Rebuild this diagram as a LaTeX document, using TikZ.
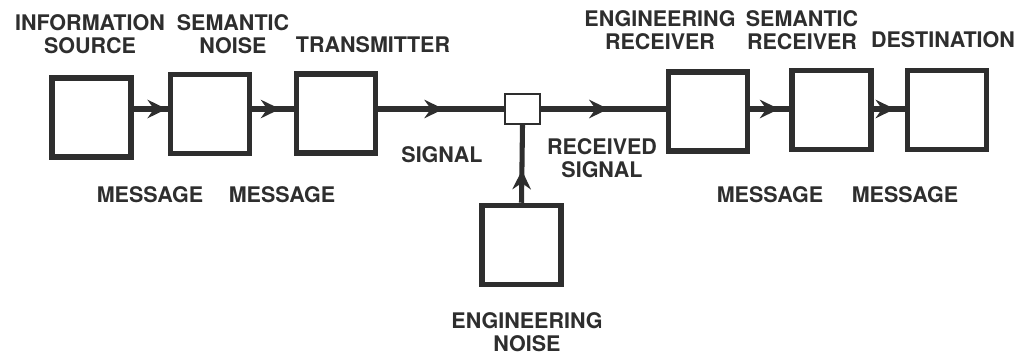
\documentclass[tikz,border=0pt]{standalone}
\usepackage{fontspec}
\setmainfont{TeX Gyre Heros}
\usetikzlibrary{arrows.meta, decorations.markings}

\definecolor{ink}{HTML}{2E2E2E}
\tikzset{
  blk/.style={draw=ink, line width=3.9pt, minimum width=1.975cm, minimum height=1.975cm, inner sep=0pt},
  jbox/.style={draw=ink, line width=1.5pt, minimum width=0.875cm, minimum height=0.75cm, inner sep=0pt},
  lbl/.style={text=ink, font=\fontsize{15.3}{16.3}\selectfont\bfseries, align=center, inner sep=0pt},
  wire/.style={draw=ink, line width=3.6pt},
  midarr/.style={postaction={decorate}, decoration={markings,
    mark=at position #1 with {\arrow{Stealth[length=0.48cm, width=0.46cm, inset=0.16cm]}}}},
}

\begin{document}
\begin{tikzpicture}[x=0.025cm, y=-0.025cm]
  \useasboundingbox (0,0) rectangle (1025,355);
  % Boxes
  \node[blk] (src)  at (91.5,117.5) {};
  \node[blk] (sem)  at (210,114) {};
  \node[blk] (tx)   at (336,113.5) {};
  \node[jbox] (jn)  at (522.5,109) {};
  \node[blk] (noise) at (521.5,245) {};
  \node[blk] (erx)  at (708,111.5) {};
  \node[blk] (srx)  at (831.5,110) {};
  \node[blk] (dst)  at (947,110) {};
  % Connectors
  \draw[wire, midarr=0.97] (src.east |- jn.center) -- (sem.west |- jn.center);
  \draw[wire, midarr=0.67] (sem.east |- jn.center) -- (tx.west |- jn.center);
  \draw[wire, midarr=0.52] (tx.east |- jn.center) -- (jn.west);
  \draw[wire, midarr=0.54] (jn.east) -- (erx.west |- jn.center);
  \draw[wire, midarr=0.74] (erx.east |- jn.center) -- (srx.west |- jn.center);
  \draw[wire, midarr=0.68] (srx.east |- jn.center) -- (dst.west |- jn.center);
  \draw[wire, midarr=0.42] (noise.north) -- (jn.south);
  % Labels
  \node[lbl] (lsrc) at (90,34) {INFORMATION\\SOURCE};
  \node[lbl] (lsem) at (233,34) {SEMANTIC\\NOISE};
  \node[lbl] (ltx)  at (373,44.5) {TRANSMITTER};
  \node[lbl] (lsig) at (442,154.5) {SIGNAL};
  \node[lbl] (lrs)  at (602,158.5) {RECEIVED\\SIGNAL};
  \node[lbl] (lm1)  at (150,195) {MESSAGE};
  \node[lbl] (lm2)  at (282,195) {MESSAGE};
  \node[lbl] (lm3)  at (770,194.5) {MESSAGE};
  \node[lbl] (lm4)  at (905,194.5) {MESSAGE};
  \node[lbl] (lerx) at (660,30) {ENGINEERING\\RECEIVER};
  \node[lbl] (lsrx) at (802,30) {SEMANTIC\\RECEIVER};
  \node[lbl] (ldst) at (943,39.5) {DESTINATION};
  \node[lbl] (lnoise) at (527,332) {ENGINEERING\\NOISE};
\end{tikzpicture}
\end{document}
